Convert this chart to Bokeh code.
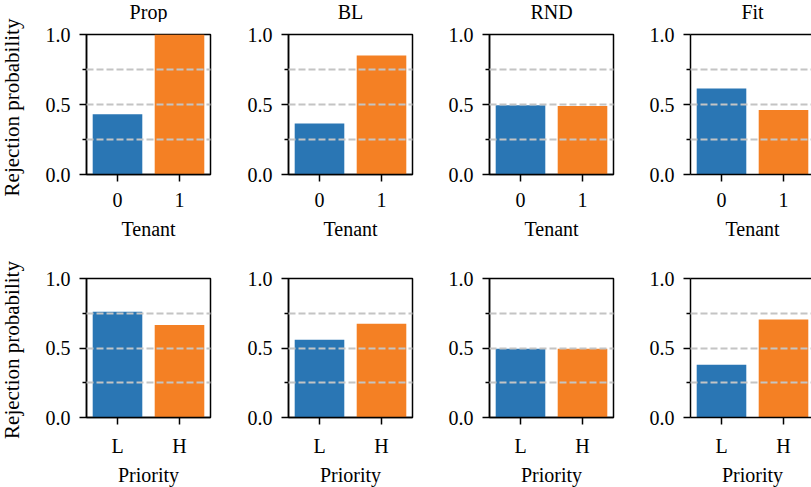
import math
from bokeh.plotting import figure
from bokeh.layouts import column, row
from bokeh.models import (Range1d, FixedTicker, PrintfTickFormatter,
                          ColumnDataSource, LinearAxis)
from bokeh.core.properties import value
from bokeh.embed import file_html
from bokeh.resources import INLINE

# ---- data ----
methods = ["Prop", "BL", "RND", "Fit"]
tenant_labels = ["0", "1"]
priority_labels = ["L", "H"]
row_xlabels = ["Tenant", "Priority"]
y_label = "Rejection probability"
tenant_prop = [0.43, 1.00]
tenant_bl = [0.365, 0.85]
tenant_rnd = [0.495, 0.49]
tenant_fit = [0.615, 0.46]
priority_prop = [0.76, 0.665]
priority_bl = [0.56, 0.675]
priority_rnd = [0.495, 0.495]
priority_fit = [0.38, 0.705]
y_ticks = [0.0, 0.5, 1.0]
y_minor = [0.25, 0.75]
grid_levels = [0.25, 0.5, 0.75]

BLUE = "#2a76b4"
ORANGE = "#f48024"
FONT = "Liberation Serif"
FS = "20px"

LEFT_STRIP = 30
col_widths = [206, 201, 201, 173]
left_b = [56, 52, 52, 52]
right_b = [26, 25, 25, 0]
PX_PER_UNIT = 62.0

# vertical layout (px)
TITLE_H = 22
PANEL = [dict(h=195, top=12, bot=43, xstand=11),
         dict(h=206, top=25, bot=42, xstand=10)]
XLAB_H = [36, 28]
TITLE_BASE = 11      # text anchor height inside title strip (from its bottom)
XLAB_BASE = [25, 13]
TOTAL_H = TITLE_H + PANEL[0]["h"] + XLAB_H[0] + PANEL[1]["h"] + XLAB_H[1]
YLAB_SHIFT = [3, 2]


def x_end_for(ci):
    frame_w = col_widths[ci] - left_b[ci] - right_b[ci]
    return -0.5 + frame_w / PX_PER_UNIT


def strip(ci, height, txt, base):
    p = figure(width=col_widths[ci], height=height, output_backend="svg",
               toolbar_location=None, x_range=Range1d(-0.5, x_end_for(ci)),
               y_range=Range1d(0, height),
               x_axis_location=None, y_axis_location=None,
               min_border_left=left_b[ci], min_border_right=right_b[ci],
               min_border_top=0, min_border_bottom=0)
    p.grid.visible = False
    p.outline_line_color = None
    p.background_fill_color = "white"
    p.border_fill_color = "white"
    p.text(x=[0.5], y=[base], text=[txt], text_align="center",
           text_baseline="alphabetic", text_font=value(FONT),
           text_font_size=value(FS), text_color="black")
    return p


def make_panel(vals, labels, ci, ri):
    cfg = PANEL[ri]
    p = figure(width=col_widths[ci], height=cfg["h"], output_backend="svg",
               toolbar_location=None, x_range=Range1d(-0.5, x_end_for(ci)),
               y_range=Range1d(0, 1.0),
               min_border_left=left_b[ci], min_border_right=right_b[ci],
               min_border_top=cfg["top"], min_border_bottom=cfg["bot"])
    xs = list(range(len(labels)))
    src = ColumnDataSource(dict(x=xs, top=vals, color=[BLUE, ORANGE]))
    p.vbar(x="x", top="top", width=0.8, source=src, fill_color="color",
           line_color=None)

    p.xaxis.ticker = FixedTicker(ticks=xs)
    p.xaxis.major_label_overrides = {i: lab for i, lab in zip(xs, labels)}
    p.xaxis.minor_tick_line_color = None
    p.xaxis.major_label_standoff = cfg["xstand"]

    p.yaxis.ticker = FixedTicker(ticks=y_ticks, minor_ticks=y_minor)
    p.yaxis.formatter = PrintfTickFormatter(format="%.1f")
    p.yaxis.major_label_standoff = 9

    for ax in p.axis:
        ax.axis_line_color = "black"
        ax.axis_line_width = 1.5
        ax.major_tick_line_color = "black"
        ax.major_tick_line_width = 1.5
        ax.major_tick_out = 7
        ax.major_tick_in = 0
        ax.minor_tick_out = 4
        ax.minor_tick_in = 0
        ax.minor_tick_line_width = 1.5
        ax.major_label_text_font = FONT
        ax.major_label_text_font_size = FS
        ax.major_label_text_color = "black"
    p.yaxis.minor_tick_line_color = "black"

    p.xgrid.visible = False
    p.ygrid.ticker = FixedTicker(ticks=grid_levels)
    p.ygrid.grid_line_color = "#c4c4c4"
    p.ygrid.grid_line_width = 1.8
    p.ygrid.grid_line_dash = "7 3"
    p.ygrid.level = "annotation"

    if ci == 3:
        # frame runs off the right edge: only left, bottom and top lines
        p.outline_line_color = None
        top_ax = LinearAxis(ticker=FixedTicker(ticks=[]),
                            axis_line_color="black", axis_line_width=1.5,
                            major_tick_line_color=None,
                            minor_tick_line_color=None,
                            major_label_text_font_size="0px",
                            major_label_standoff=0)
        p.add_layout(top_ax, "above")
    else:
        p.outline_line_color = "black"
        p.outline_line_width = 1.5
    p.background_fill_color = "white"
    p.border_fill_color = "white"
    return p


tenant_vals = [tenant_prop, tenant_bl, tenant_rnd, tenant_fit]
priority_vals = [priority_prop, priority_bl, priority_rnd, priority_fit]

title_row = row(*[strip(i, TITLE_H, m, TITLE_BASE) for i, m in enumerate(methods)])
panels1 = row(*[make_panel(v, tenant_labels, i, 0) for i, v in enumerate(tenant_vals)])
panels2 = row(*[make_panel(v, priority_labels, i, 1) for i, v in enumerate(priority_vals)])
xlab1 = row(*[strip(i, XLAB_H[0], row_xlabels[0], XLAB_BASE[0]) for i in range(4)])
xlab2 = row(*[strip(i, XLAB_H[1], row_xlabels[1], XLAB_BASE[1]) for i in range(4)])

# left strip (full height) with the two rotated y-axis labels
r1_center = TITLE_H + PANEL[0]["top"] + (PANEL[0]["h"] - PANEL[0]["top"] - PANEL[0]["bot"]) / 2
r2_top = TITLE_H + PANEL[0]["h"] + XLAB_H[0]
r2_center = r2_top + PANEL[1]["top"] + (PANEL[1]["h"] - PANEL[1]["top"] - PANEL[1]["bot"]) / 2
ls = figure(width=LEFT_STRIP, height=TOTAL_H, output_backend="svg",
            toolbar_location=None, x_range=Range1d(0, LEFT_STRIP),
            y_range=Range1d(0, TOTAL_H),
            x_axis_location=None, y_axis_location=None,
            min_border_left=0, min_border_right=0, min_border_top=0,
            min_border_bottom=0)
ls.grid.visible = False
ls.outline_line_color = None
ls.background_fill_color = "white"
ls.border_fill_color = "white"
ls.text(x=[11.5, 11.5],
        y=[TOTAL_H - r1_center - YLAB_SHIFT[0], TOTAL_H - r2_center - YLAB_SHIFT[1]],
        text=[y_label, y_label], angle=math.pi / 2, text_align="center",
        text_baseline="alphabetic", text_font=value(FONT),
        text_font_size=value("21px"), text_color="black")

layout = row(ls, column(title_row, panels1, xlab1, panels2, xlab2))
open("out.html", "w").write(file_html(layout, INLINE))
